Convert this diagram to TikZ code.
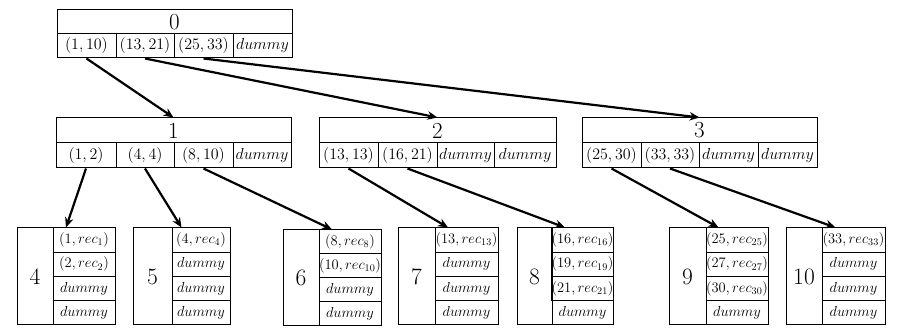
\RequirePackage{fix-cm}
\documentclass[tikz,border=0pt]{standalone}
\usetikzlibrary{arrows.meta}
\tikzset{
  box/.style={draw, line width=1pt, inner sep=0pt},
  hdr/.style={box, font=\fontsize{23}{23}\selectfont},
  cell/.style={box, font=\fontsize{16}{16}\selectfont},
  lnum/.style={box, font=\fontsize{23.5}{23.5}\selectfont},
  lcell/.style={box, font=\fontsize{14.5}{14.5}\selectfont},
  outline/.style={box},
  ptr/.style={line width=2.2pt, -{Stealth[length=10pt,width=8.5pt]}}
}
% #1 style, #2 name, #3 x1, #4 y1, #5 x2, #6 y2, #7 text
\newcommand\cellbox[7]{%
  \node[#1, minimum width={(#5)-(#3)}, minimum height={(#6)-(#4)}]
    (#2) at ({((#3)+(#5))/2},{((#4)+(#6))/2}) {#7};}
\begin{document}
\begin{tikzpicture}[x=1pt,y=-1pt]
\useasboundingbox (0,0) rectangle (897,336);
% ---------- root 0 ----------
\cellbox{hdr}{n0}{57}{10}{292}{34}{0}
\cellbox{cell}{n0a}{57}{34}{116}{58}{$(1,10)$}
\cellbox{cell}{n0b}{116}{34}{174}{58}{$(13,21)$}
\cellbox{cell}{n0c}{174}{34}{233}{58}{$(25,33)$}
\cellbox{cell}{n0d}{233}{34}{292}{58}{$dummy$}
% ---------- node 1 ----------
\cellbox{hdr}{n1}{56}{118}{291}{143}{1}
\cellbox{cell}{n1a}{56}{143}{116}{168}{$(1,2)$}
\cellbox{cell}{n1b}{116}{143}{174}{168}{$(4,4)$}
\cellbox{cell}{n1c}{174}{143}{233}{168}{$(8,10)$}
\cellbox{cell}{n1d}{233}{143}{291}{168}{$dummy$}
% ---------- node 2 ----------
\cellbox{hdr}{n2}{319}{118}{556}{143}{2}
\cellbox{cell}{n2a}{319}{143}{378}{168}{$(13,13)$}
\cellbox{cell}{n2b}{378}{143}{437}{168}{$(16,21)$}
\cellbox{cell}{n2c}{437}{143}{494}{168}{$dummy$}
\cellbox{cell}{n2d}{494}{143}{556}{168}{$dummy$}
% ---------- node 3 ----------
\cellbox{hdr}{n3}{582}{118}{817}{143}{3}
\cellbox{cell}{n3a}{582}{143}{641}{168}{$(25,30)$}
\cellbox{cell}{n3b}{641}{143}{699}{168}{$(33,33)$}
\cellbox{cell}{n3c}{699}{143}{758}{168}{$dummy$}
\cellbox{cell}{n3d}{758}{143}{817}{168}{$dummy$}
% ---------- leaf 4 ----------
\cellbox{outline}{n4}{17}{228}{115}{325}{}
\cellbox{lnum}{n4l}{17}{228}{53}{325}{4}
\cellbox{lcell}{n4a}{53}{228}{115}{252.25}{$(1,rec_1)$}
\cellbox{lcell}{n4b}{53}{252.25}{115}{276.5}{$(2,rec_2)$}
\cellbox{lcell}{n4c}{53}{276.5}{115}{300.75}{$dummy$}
\cellbox{lcell}{n4d}{53}{300.75}{115}{325}{$dummy$}
% ---------- leaf 5 ----------
\cellbox{outline}{n5}{133}{228}{230}{325}{}
\cellbox{lnum}{n5l}{133}{228}{172}{325}{5}
\cellbox{lcell}{n5a}{172}{228}{230}{252.25}{$(4,rec_4)$}
\cellbox{lcell}{n5b}{172}{252.25}{230}{276.5}{$dummy$}
\cellbox{lcell}{n5c}{172}{276.5}{230}{300.75}{$dummy$}
\cellbox{lcell}{n5d}{172}{300.75}{230}{325}{$dummy$}
% ---------- leaf 6 ----------
\cellbox{outline}{n6}{283}{230}{381}{326}{}
\cellbox{lnum}{n6l}{283}{230}{319}{326}{6}
\cellbox{lcell}{n6a}{319}{230}{381}{254}{$(8,rec_8)$}
\cellbox{lcell}{n6b}{319}{254}{381}{278}{$(10,rec_{10})$}
\cellbox{lcell}{n6c}{319}{278}{381}{302}{$dummy$}
\cellbox{lcell}{n6d}{319}{302}{381}{326}{$dummy$}
% ---------- leaf 7 ----------
\cellbox{outline}{n7}{398}{228}{498}{325}{}
\cellbox{lnum}{n7l}{398}{228}{435}{325}{7}
\cellbox{lcell}{n7a}{435}{228}{498}{252.25}{$(13,rec_{13})$}
\cellbox{lcell}{n7b}{435}{252.25}{498}{276.5}{$dummy$}
\cellbox{lcell}{n7c}{435}{276.5}{498}{300.75}{$dummy$}
\cellbox{lcell}{n7d}{435}{300.75}{498}{325}{$dummy$}
% ---------- leaf 8 ----------
\cellbox{outline}{n8}{517}{228}{613}{325}{}
\cellbox{lnum}{n8l}{517}{228}{552}{325}{8}
\cellbox{lcell}{n8a}{552}{228}{613}{252.25}{$(16,rec_{16})$}
\cellbox{lcell}{n8b}{552}{252.25}{613}{276.5}{$(19,rec_{19})$}
\cellbox{lcell}{n8c}{552}{276.5}{613}{300.75}{$(21,rec_{21})$}
\cellbox{lcell}{n8d}{552}{300.75}{613}{325}{$dummy$}
% ---------- leaf 9 ----------
\cellbox{outline}{n9}{669}{228}{768}{325}{}
\cellbox{lnum}{n9l}{669}{228}{706}{325}{9}
\cellbox{lcell}{n9a}{706}{228}{768}{252.25}{$(25,rec_{25})$}
\cellbox{lcell}{n9b}{706}{252.25}{768}{276.5}{$(27,rec_{27})$}
\cellbox{lcell}{n9c}{706}{276.5}{768}{300.75}{$(30,rec_{30})$}
\cellbox{lcell}{n9d}{706}{300.75}{768}{325}{$dummy$}
% ---------- leaf 10 ----------
\cellbox{outline}{n10}{786}{228}{885}{325}{}
\cellbox{lnum}{n10l}{786}{228}{822}{325}{10}
\cellbox{lcell}{n10a}{822}{228}{885}{252.25}{$(33,rec_{33})$}
\cellbox{lcell}{n10b}{822}{252.25}{885}{276.5}{$dummy$}
\cellbox{lcell}{n10c}{822}{276.5}{885}{300.75}{$dummy$}
\cellbox{lcell}{n10d}{822}{300.75}{885}{325}{$dummy$}
% ---------- pointers ----------
\draw[ptr] (n0a.south) -- (n1.north);
\draw[ptr] (n0b.south) -- (n2.north);
\draw[ptr] (n0c.south) -- (n3.north);
\draw[ptr] (n1a.south) -- (n4.north);
\draw[ptr] (n1b.south) -- (n5.north);
\draw[ptr] (n1c.south) -- (n6.north);
\draw[ptr] (n2a.south) -- (n7.north);
\draw[ptr] (n2b.south) -- (n8.north);
\draw[ptr] (n3a.south) -- (n9.north);
\draw[ptr] (n3b.south) -- (n10.north);
\end{tikzpicture}
\end{document}
